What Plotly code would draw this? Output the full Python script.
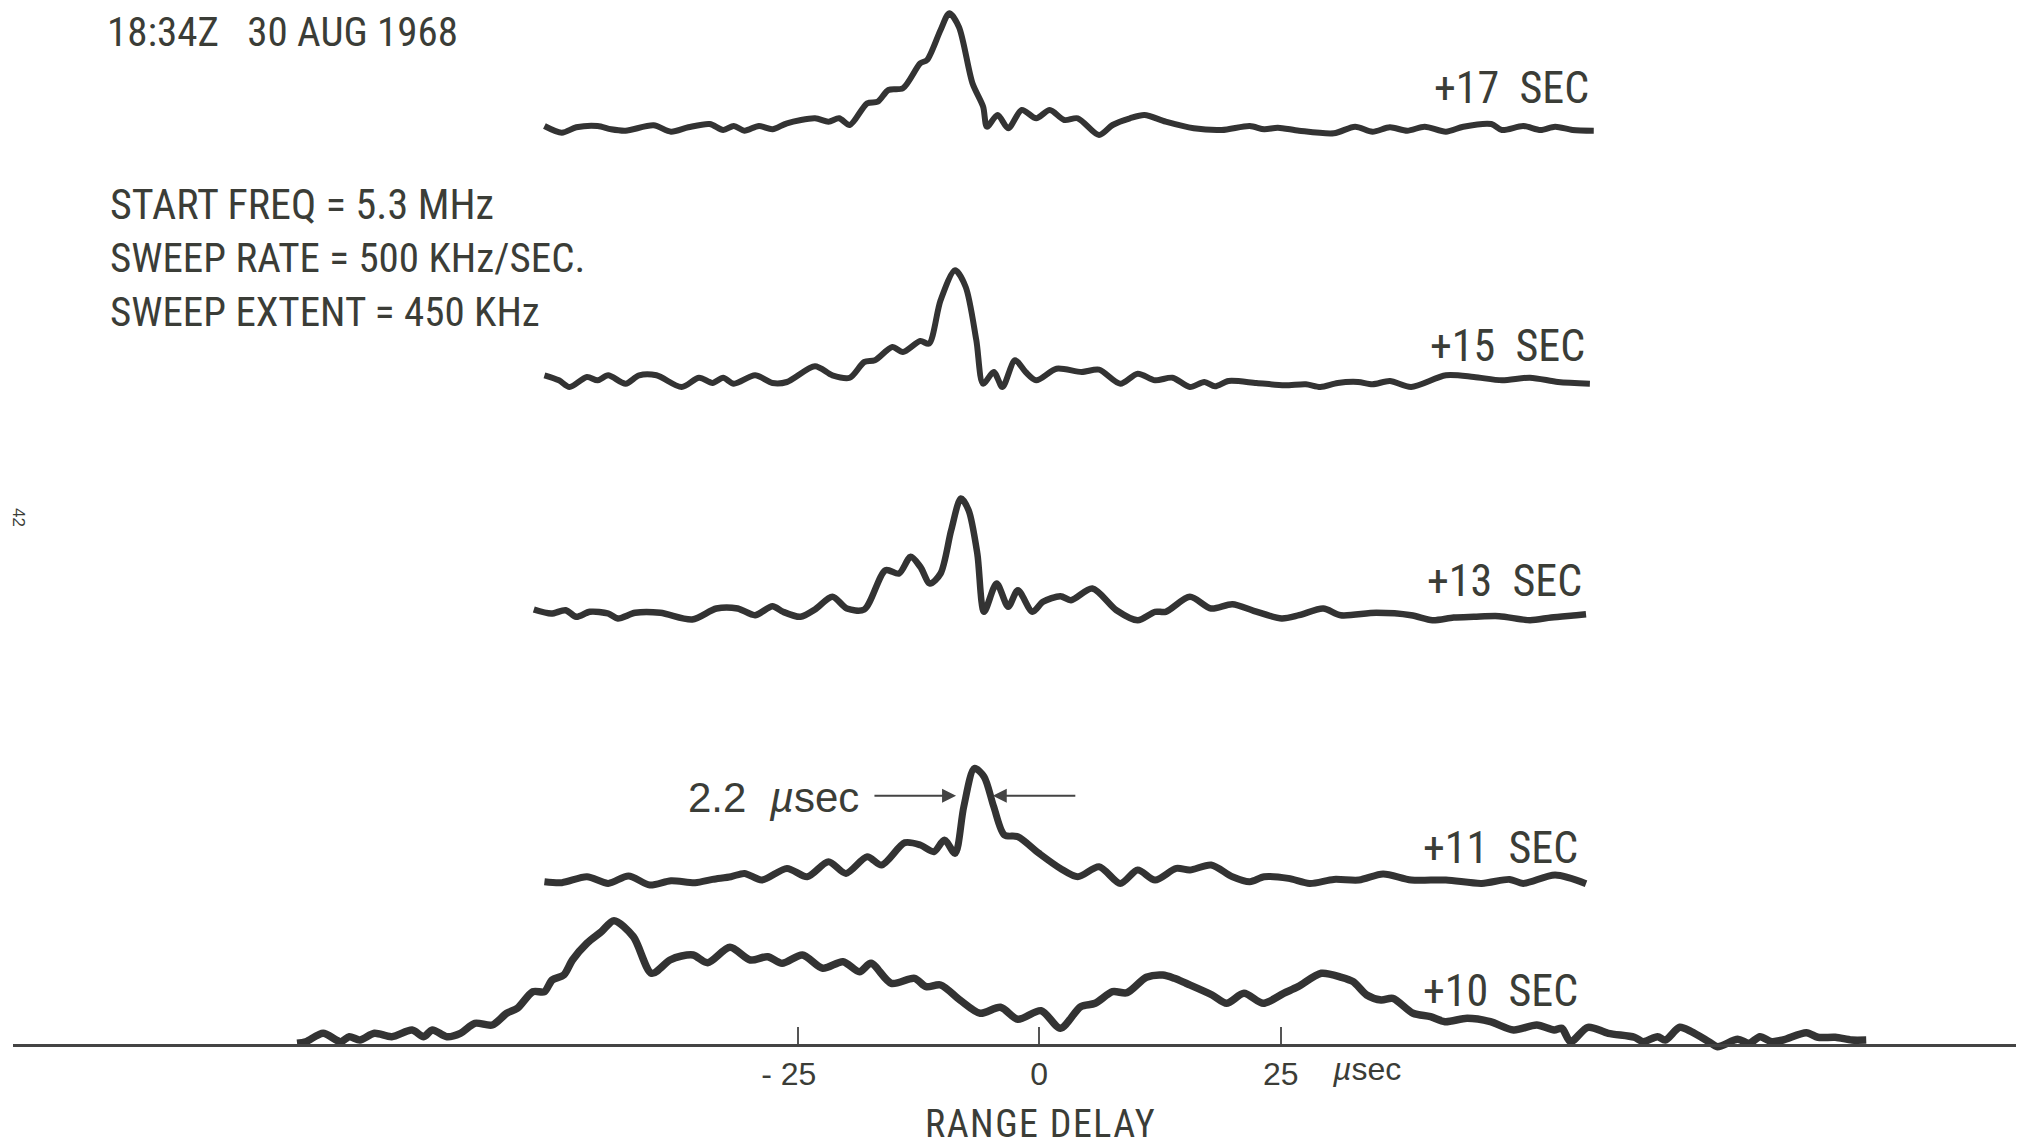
import plotly.graph_objects as go

W, H = 2026, 1145

# ---- data: (range delay in microseconds, echo amplitude in arbitrary units) ----
sweep_17 = [(-51.2, 2), (-49.4, -4.7), (-47.9, 0.7), (-45.7, 2), (-44.3, -1.3), (-42.8, -2.7),
            (-39.9, 2.7), (-38.1, -3.7), (-36.3, 0.7), (-34.1, 4), (-32.7, -2), (-31.6, 2),
            (-30.5, -2.7), (-29.0, 2), (-27.6, -1.3), (-26.1, 4.7), (-23.2, 9.7), (-21.8, 6.3),
            (-20.7, 9.7), (-19.6, 3), (-17.8, 24.7), (-16.7, 26.3), (-15.6, 38), (-14.1, 39.7),
            (-12.3, 64.7), (-11.6, 68), (-10.2, 98), (-9.3, 114.7), (-8.3, 101), (-6.9, 44.7),
            (-5.8, 21.3), (-5.4, 1.3), (-4.3, 13), (-3.2, -0.3), (-1.8, 18), (-0.3, 9.7),
            (1.1, 18), (2.6, 8), (4.0, 9.7), (6.2, -7), (7.6, 3), (9.4, 9.7), (10.9, 13),
            (13.1, 6.3), (16.0, -0.3), (18.9, -2), (21.8, 2), (23.3, -1.3), (24.7, 0.3),
            (26.9, -2.7), (30.5, -5.3), (32.7, 1.3), (34.5, -3.7), (36.3, 0.7), (38.1, -2.7),
            (39.9, 1.3), (42.1, -3.7), (43.9, 1.3), (46.8, 4), (47.9, -2), (50.1, 2),
            (51.9, -2), (53.4, 1.3), (55.2, -2), (57.4, -2.7)]

sweep_15 = [(-51.2, 3.7), (-49.7, -1.3), (-48.6, -8), (-46.8, 2), (-45.7, -1.3), (-44.6, 3.7),
            (-42.8, -4.7), (-41.4, 3.7), (-39.6, 3.7), (-37.0, -8), (-35.2, 1.3), (-33.8, -4),
            (-32.7, 1.3), (-31.6, -4.7), (-29.4, 3.7), (-27.6, -4), (-26.1, -3), (-23.2, 12.7),
            (-21.4, 3.7), (-19.6, 1.3), (-18.1, 17), (-17.0, 18.7), (-15.2, 32), (-14.1, 27),
            (-12.3, 38), (-11.4, 35.3), (-10.2, 78.7), (-8.7, 108.7), (-7.6, 92), (-6.5, 38.7),
            (-5.8, -4.7), (-4.7, 7), (-3.8, -8), (-2.5, 18.7), (-1.4, 7), (-0.3, -1.3),
            (1.8, 10.3), (4.4, 7), (6.2, 9.3), (8.4, -4.7), (10.2, 5.3), (12.0, -1.3),
            (13.8, 1.3), (15.6, -8), (17.1, -3), (18.2, -7.3), (19.6, -2), (22.5, -4),
            (25.4, -6.3), (27.6, -5.3), (29.1, -8), (30.9, -4), (33.0, -3), (34.5, -5.3),
            (36.3, -2), (38.5, -8), (42.1, 3.7), (45.0, 2), (47.9, -1.3), (50.8, 1.3),
            (53.7, -3), (57.0, -4.7)]

sweep_13 = [(-52.3, 3), (-50.5, -1), (-49.0, 2.3), (-47.9, -4.3), (-46.5, 0.7), (-44.6, -1),
            (-43.6, -6), (-41.8, -0.3), (-39.2, -0.3), (-35.9, -7), (-33.4, 4), (-31.2, 4),
            (-29.4, -2.7), (-27.6, 6.3), (-26.5, 0.7), (-24.7, -4.3), (-23.2, 3), (-21.4, 15.7),
            (-19.9, 4), (-18.1, 3), (-15.9, 42.3), (-14.5, 39), (-13.3, 55.7), (-12.3, 45.7),
            (-11.3, 29), (-10.2, 39), (-9.1, 82.3), (-8.1, 114), (-7.3, 102.3), (-6.4, 59),
            (-5.7, 0.7), (-4.4, 29), (-3.2, 5.7), (-2.2, 22.3), (-0.7, 0.7), (0.4, 10.7),
            (2.2, 16.3), (3.3, 12.3), (5.5, 24), (8.0, 2.3), (10.2, -7.7), (12.0, 0.7),
            (13.1, 0.7), (15.6, 15.7), (17.8, 4), (20.0, 8.3), (22.2, 1.7), (25.1, -6),
            (26.9, -2.7), (29.4, 4), (31.2, -2.7), (34.9, -0.3), (38.5, -2.7), (40.7, -7.7),
            (42.9, -5), (45.0, -4.3), (47.6, -3.7), (50.8, -7.7), (53.0, -5), (55.6, -2.7),
            (56.6, -1.7)]

sweep_11 = [(-51.2, 0), (-49.4, -1), (-46.8, 5), (-44.6, -1.7), (-42.5, 5.7), (-40.3, -3.3),
            (-38.1, 1), (-35.6, -1), (-33.8, 2.3), (-31.9, 5), (-30.5, 8.3), (-28.7, 1.7),
            (-26.1, 13.3), (-24.0, 5), (-21.8, 20), (-20.0, 8.3), (-17.8, 25), (-16.3, 16.7),
            (-13.9, 39), (-12.3, 36.7), (-10.9, 30), (-9.8, 41.7), (-8.7, 28.3), (-7.8, 75),
            (-6.7, 113.3), (-5.7, 105), (-4.7, 75), (-3.6, 46.7), (-2.2, 45), (0.0, 28.3),
            (2.2, 13.3), (4.0, 5), (6.2, 15), (8.4, -1.7), (10.2, 11.7), (12.0, 1.7),
            (14.2, 13.3), (15.6, 11.7), (17.8, 16.7), (20.0, 5), (21.8, 0), (23.3, 5),
            (25.8, 3.3), (28.0, -1.7), (30.5, 2.3), (33.1, 1.7), (35.6, 7.7), (38.5, 1.7),
            (42.1, 1.7), (45.8, -1.7), (48.7, 2.3), (50.1, -1.7), (53.4, 6.7), (56.6, -2)]

sweep_10 = [(-76.8, 1.7), (-75.9, 3.3), (-74.1, 11.7), (-72.3, 3.3), (-71.4, 8.3), (-70.3, 5),
            (-68.8, 11.7), (-67.0, 8.3), (-64.9, 15), (-63.7, 8.3), (-62.8, 15), (-61.3, 8.3),
            (-59.9, 11.7), (-58.4, 21.7), (-56.6, 20), (-55.1, 31.7), (-54.0, 36.7), (-52.4, 53.3),
            (-51.2, 53.3), (-50.4, 65), (-49.2, 70), (-48.3, 85), (-46.8, 101.7), (-45.3, 113.3),
            (-44.0, 124.3), (-42.0, 108.3), (-40.1, 71.7), (-38.2, 85), (-37.0, 89), (-35.8, 90),
            (-34.3, 82.3), (-32.0, 97.7), (-29.9, 85), (-28.1, 88.3), (-26.6, 81.7), (-24.5, 90),
            (-22.4, 76.7), (-20.3, 83.3), (-18.6, 73.3), (-17.4, 81.7), (-15.3, 61.7), (-12.9, 66.7),
            (-11.7, 58.3), (-10.2, 60), (-8.2, 45), (-6.1, 31.7), (-4.0, 37.7), (-2.2, 25.7),
            (0.2, 34.3), (2.2, 16.7), (4.3, 38.3), (5.8, 41.7), (7.6, 53.3), (9.1, 52.3),
            (11.1, 67.7), (12.8, 70), (14.0, 66.7), (15.2, 61.7), (17.9, 50), (19.4, 41.7),
            (21.2, 51.7), (23.2, 41.7), (25.3, 51.7), (26.8, 58.3), (29.2, 71.7), (31.3, 67.7),
            (32.5, 63.3), (33.9, 50), (35.4, 45), (36.6, 46.7), (38.7, 31.7), (40.5, 28.3),
            (42.0, 23.3), (44.3, 26.7), (46.7, 23.3), (49.1, 15), (51.5, 20), (53.3, 15),
            (54.1, 16.7), (55.0, 3.3), (56.8, 17.7), (58.9, 11.7), (61.6, 7.7), (62.5, 3.3),
            (64.0, 8.3), (64.8, 5), (66.3, 17.7), (67.5, 13.3), (69.3, 3.3), (70.2, -1.7),
            (72.3, 5.7), (73.5, 1.7), (74.6, 8.3), (75.8, 3.3), (77.0, 5), (79.4, 12.3),
            (80.6, 7.7), (82.4, 7.7), (84.1, 5), (85.6, 5)]

sweep_labels = ["+17 SEC", "+15 SEC", "+13 SEC", "+11 SEC", "+10 SEC"]
tick_values = [-25, 0, 25]
tick_labels = ["-&nbsp;25&nbsp;&nbsp;", "0", "25"]

# ---- layout constants (vertical stacking of the sweeps, label placement) ----
sweeps = [sweep_17, sweep_15, sweep_13, sweep_11, sweep_10]
stack_offsets = [917, 666, 432.5, 163.3, 0]
line_widths = [6, 6, 6.5, 7, 7.5]
label_dx = [57.1, 56.7, 56.4, 56.0, 56.0]
label_dy = [40, 33, 31.5, 34, 54]
fwhm_left, fwhm_right = -8.6, -4.8

INK = "#333333"
TEXT = "#3b3d37"
NARROW = "Roboto Condensed, Liberation Sans Narrow, Roboto, sans-serif"
PLAIN = "Liberation Sans, Arial, sans-serif"

fig = go.Figure()
for pts, off, lw in zip(sweeps, stack_offsets, line_widths):
    xs = [p[0] for p in pts]
    ys = [p[1] + off for p in pts]
    fig.add_trace(go.Scatter(x=xs, y=ys, mode="lines",
                             line=dict(color=INK, width=lw, shape="spline", smoothing=0.8),
                             showlegend=False, hoverinfo="skip"))

ann = []
for lab, off, dx, dy in zip(sweep_labels, stack_offsets, label_dx, label_dy):
    ann.append(dict(x=dx, y=off + dy, xref="x", yref="y", text=lab.replace(" ", "&nbsp;&nbsp;"),
                    showarrow=False, xanchor="right", yanchor="middle",
                    font=dict(family=NARROW, size=44, color=TEXT)))

def ptext(txt, px, py, size, family=NARROW, anchor="left", angle=0):
    return dict(x=px / W, y=1 - py / H, xref="paper", yref="paper", text=txt,
                showarrow=False, xanchor=anchor, yanchor="middle", textangle=angle,
                font=dict(family=family, size=size, color=TEXT))

ann.append(ptext("18:34Z&nbsp;&nbsp;&nbsp;30 AUG 1968", 105, 32, 41))
ann.append(ptext("START FREQ = 5.3 MHz", 108, 205, 42))
ann.append(ptext("SWEEP RATE = 500 KHz/SEC.", 108, 258, 41))
ann.append(ptext("SWEEP EXTENT = 450 KHz", 108, 312, 41))
ann.append(ptext('<span style="letter-spacing:1.5px">RANGE DELAY</span>', 1040, 1124, 38,
                 anchor="center"))
ann.append(ptext("42", 19, 517, 17, family=PLAIN, anchor="center", angle=90))
ann.append(ptext("<i>µ</i>sec", 1366, 1069, 32, family=PLAIN, anchor="center"))
ann.append(ptext("2.2&nbsp;&nbsp;<i>µ</i>sec", 861, 797, 42, family=PLAIN, anchor="right"))

# FWHM arrows on the +11 sec sweep
arrow_y = stack_offsets[3] + 86
ann.append(dict(x=fwhm_left, y=arrow_y, ax=fwhm_left - 8.6, ay=arrow_y, xref="x", yref="y",
                axref="x", ayref="y", showarrow=True, arrowhead=2, arrowsize=1.4,
                arrowwidth=2, arrowcolor="#444", text=""))
ann.append(dict(x=fwhm_right, y=arrow_y, ax=fwhm_right + 8.7, ay=arrow_y, xref="x", yref="y",
                axref="x", ayref="y", showarrow=True, arrowhead=2, arrowsize=1.4,
                arrowwidth=2, arrowcolor="#444", text=""))

fig.update_layout(
    width=W, height=H, autosize=False,
    margin=dict(l=0, r=0, t=0, b=0),
    paper_bgcolor="white", plot_bgcolor="white",
    annotations=ann,
    xaxis=dict(range=[-106.2, 101.1], domain=[13 / W, 2016 / W], anchor="free",
               position=100 / H, showline=True, linecolor="#444", linewidth=2.5,
               ticks="inside", ticklen=17, tickwidth=2, tickcolor="#555",
               tickvals=tick_values, ticktext=tick_labels, ticklabelstandoff=0,
               tickfont=dict(family=PLAIN, size=32, color=TEXT),
               showgrid=False, zeroline=False, fixedrange=True),
    yaxis=dict(range=[-100, 1045], domain=[0, 1], visible=False, showgrid=False,
               zeroline=False, fixedrange=True),
)

fig.write_html("out.html", config={"displayModeBar": False},
               post_script="document.body.style.margin='0';document.body.style.overflow='hidden';")
